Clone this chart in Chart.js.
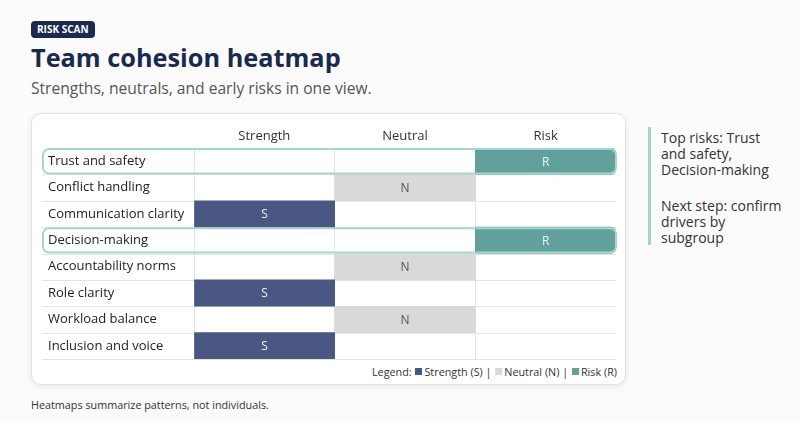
<!DOCTYPE html>
<html>
<head>
<meta charset="utf-8">
<script src="https://cdn.jsdelivr.net/npm/chart.js@4"></script>
<style>
body{margin:0;width:800px;height:422px;background:#fbfbfb;font-family:"Open Sans",sans-serif;position:relative;overflow:hidden}
.badge{position:absolute;left:31px;top:21px;height:17px;padding:0 6px;background:#1b2a4e;color:#fff;font-size:10px;font-weight:700;line-height:17px;border-radius:4px}
h1{position:absolute;left:31px;top:39px;margin:0;font-size:25.3px;font-weight:700;color:#1a2a4f;line-height:36px}
.sub{position:absolute;left:31px;top:77px;font-size:15.6px;color:#555;line-height:22px}
.card{position:absolute;left:31px;top:113px;width:593px;height:270px;background:#fff;border:1px solid #e3e3e3;border-radius:10px;box-shadow:0 2px 6px rgba(0,0,0,.08)}
.legend{position:absolute;right:183px;top:365px;font-size:10.8px;color:#333;line-height:14px}
.legend i{display:inline-block;width:7px;height:7px;margin:0 2px 1px 1px}
.note{position:absolute;left:648px;top:127px;height:118px;border-left:3px solid #a3d5cc;padding-left:10px;font-size:14px;line-height:16px;color:#333}
.note p{margin:0 0 20px 0}
.note p:first-child{padding-top:3px}
.foot{position:absolute;left:31px;top:397px;font-size:10.8px;color:#333}
#wrap{position:absolute;left:0;top:0;width:800px;height:422px}
</style>
</head>
<body>
<div class="badge">RISK SCAN</div>
<h1>Team cohesion heatmap</h1>
<div class="sub">Strengths, neutrals, and early risks in one view.</div>
<div class="card"></div>
<div class="note"><p>Top risks: Trust<br>and safety,<br>Decision-making</p><p>Next step: confirm<br>drivers by<br>subgroup</p></div>
<div class="legend">Legend: <i style="background:#4b5783"></i>Strength (S) | <i style="background:#d9d9d9"></i>Neutral (N) | <i style="background:#62a09b"></i>Risk (R)</div>
<div class="foot">Heatmaps summarize patterns, not individuals.</div>
<div id="wrap"><canvas id="chartView"></canvas></div>
<script>
var rows = ['Trust and safety', 'Conflict handling', 'Communication clarity', 'Decision-making',
            'Accountability norms', 'Role clarity', 'Workload balance', 'Inclusion and voice'];
var columns = ['Strength', 'Neutral', 'Risk'];
// 1 = this row sits in that column
var strength = [0, 0, 1, 0, 0, 1, 0, 1];
var neutral  = [0, 1, 0, 0, 1, 0, 1, 0];
var risk     = [1, 0, 0, 1, 0, 0, 0, 0];
var cellText = ['S', 'N', 'R'];

var cellColors = ['#4b5783', '#d9d9d9', '#62a09b'];
var textColors = ['#eceef5', '#555555', '#eef6f5'];
var flags = [strength, neutral, risk];

var cellPlugin = {
    id: 'cells',
    beforeDatasetsDraw(chart) {
        var ctx = chart.ctx, a = chart.chartArea, y = chart.scales.y;
        ctx.save();
        ctx.strokeStyle = '#e4e4e4';
        ctx.lineWidth = 1;
        for (var i = 0; i < rows.length; i++) {
            var yy = Math.round(y.getPixelForValue(i + 0.5)) + 0.5;
            ctx.beginPath();
            ctx.moveTo(42, yy);
            ctx.lineTo(a.right, yy);
            ctx.stroke();
        }
        ctx.restore();
    },
    afterDatasetsDraw(chart) {
        var ctx = chart.ctx, a = chart.chartArea, y = chart.scales.y;
        ctx.save();
        // outline the risk rows
        ctx.strokeStyle = '#a6d7cf';
        ctx.lineWidth = 2;
        risk.forEach((f, i) => {
            if (!f) return;
            var t = y.getPixelForValue(i - 0.5), b = y.getPixelForValue(i + 0.5);
            ctx.beginPath();
            ctx.roundRect(43, t + 1, a.right - 43, b - t - 2, 6);
            ctx.stroke();
        });
        // letters in the cells
        ctx.font = '12px "Open Sans"';
        ctx.textAlign = 'center';
        ctx.textBaseline = 'middle';
        chart.data.datasets.forEach((ds, c) => {
            chart.getDatasetMeta(c).data.forEach((el, i) => {
                if (!flags[c][i]) return;
                ctx.fillStyle = textColors[c];
                ctx.fillText(cellText[c], (el.x + el.base) / 2, el.y + 1);
            });
        });
        ctx.restore();
    }
};

new Chart(document.getElementById('chartView'), {
    type: 'bar',
    data: {
        labels: rows,
        datasets: columns.map((name, c) => ({
            label: name,
            data: flags[c].map(f => f ? [c, c + 1] : null),
            backgroundColor: cellColors[c],
            borderWidth: 0,
            borderSkipped: false,
            borderRadius: c == 2 ? {topLeft: 0, bottomLeft: 0, topRight: 6, bottomRight: 6} : 0,
            barPercentage: 1,
            categoryPercentage: 1,
            grouped: false
        }))
    },
    options: {
        indexAxis: 'y',
        responsive: true,
        maintainAspectRatio: false,
        animation: false,
        layout: {padding: {left: 48, right: 184, top: 120, bottom: 63}},
        plugins: {legend: {display: false}, tooltip: {enabled: false}},
        scales: {
            x: {
                type: 'linear', min: 0, max: 3,
                ticks: {display: false, stepSize: 1},
                border: {display: false},
                grid: {drawTicks: false, color: c => c.tick.value == 3 ? 'rgba(0,0,0,0)' : '#e4e4e4'},
                afterFit: s => { s.height = 0; }
            },
            top: {
                type: 'category', labels: columns, position: 'top', offset: true,
                grid: {display: false, drawTicks: false}, border: {display: false},
                ticks: {color: '#333', font: {family: 'Open Sans', size: 13}, padding: 4},
                afterFit: s => { s.height = 28; }
            },
            y: {
                type: 'category', labels: rows, position: 'left', offset: true,
                grid: {display: false, drawTicks: false}, border: {display: false},
                ticks: {crossAlign: 'far', color: '#222', font: {family: 'Open Sans', size: 13}},
                afterFit: s => { s.width = 146; }
            }
        }
    },
    plugins: [cellPlugin]
});
</script>
</body>
</html>
